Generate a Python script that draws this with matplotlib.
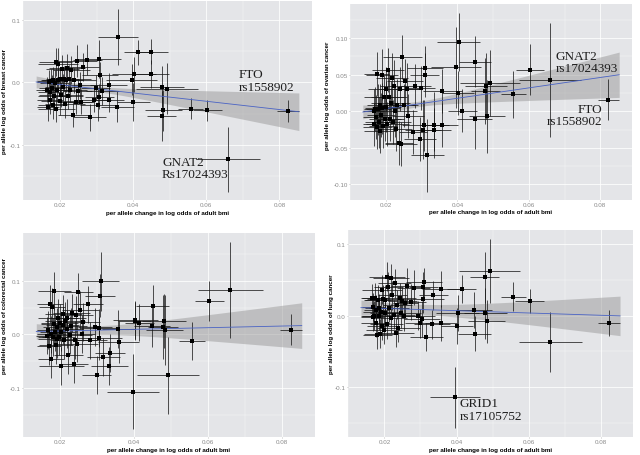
import numpy as np
import matplotlib
matplotlib.use("Agg")
import matplotlib.pyplot as plt

# ---- data (per SNP: BMI effect and its SE; shared across the four panels) ----
bmi_x = [0.0823, 0.0660, 0.0603, 0.0557, 0.0492, 0.0483, 0.0480, 0.0478, 0.0450, 0.0448,
         0.0414, 0.0403, 0.0396, 0.0401, 0.0358, 0.0357, 0.0335, 0.0333, 0.0316, 0.0310,
         0.0308, 0.0306, 0.0304, 0.0298, 0.0294, 0.0281, 0.0275, 0.0262, 0.0258, 0.0254,
         0.0249, 0.0246, 0.0243, 0.0239, 0.0236, 0.0231, 0.0228, 0.0226, 0.0222, 0.0219,
         0.0217, 0.0213, 0.0211, 0.0208, 0.0206, 0.0203, 0.0201, 0.0199, 0.0196, 0.0194,
         0.0192, 0.0190, 0.0188, 0.0186, 0.0184, 0.0182, 0.0180, 0.0178, 0.0176, 0.0174,
         0.0172, 0.0169, 0.0167, 0.0165]
bmi_xerr = [0.0030, 0.0087, 0.0040, 0.0035, 0.0084, 0.0050, 0.0060, 0.0040, 0.0045, 0.0050,
            0.0040, 0.0060, 0.0070, 0.0045, 0.0055, 0.0045, 0.0040, 0.0050, 0.0045, 0.0050,
            0.0040, 0.0060, 0.0050, 0.0040, 0.0045, 0.0045, 0.0040, 0.0045, 0.0035, 0.0050,
            0.0040, 0.0055, 0.0045, 0.0060, 0.0040, 0.0050, 0.0045, 0.0060, 0.0040, 0.0050,
            0.0045, 0.0055, 0.0040, 0.0050, 0.0045, 0.0060, 0.0040, 0.0050, 0.0045, 0.0055,
            0.0040, 0.0050, 0.0045, 0.0040, 0.0045, 0.0035, 0.0040, 0.0035, 0.0040, 0.0035,
            0.0036, 0.0032, 0.0031, 0.0030]

breast_y = [-0.046, -0.123, -0.045, -0.042, -0.010, -0.045, -0.007, -0.054, 0.049, 0.013,
            0.048, 0.013, 0.004, -0.031, 0.072, -0.039, -0.028, -0.005, -0.014, 0.011,
            -0.023, 0.037, -0.036, -0.009, -0.028, -0.056, 0.036, 0.024, -0.031, -0.005,
            -0.014, 0.034, -0.031, 0.003, -0.052, 0.020, -0.012, 0.005, -0.022, 0.023,
            0.004, -0.035, 0.006, -0.008, 0.021, -0.020, 0.005, -0.030, 0.003, 0.029,
            -0.012, -0.042, 0.032, -0.001, -0.022, 0.004, -0.036, -0.009, 0.002, -0.015,
            -0.028, 0.000, -0.039, -0.012]
breast_err = [0.017, 0.052, 0.017, 0.017, 0.040, 0.033, 0.033, 0.040, 0.020, 0.022,
              0.020, 0.028, 0.025, 0.030, 0.045, 0.025, 0.020, 0.020, 0.022, 0.022,
              0.020, 0.030, 0.025, 0.020, 0.020, 0.022, 0.025, 0.022, 0.020, 0.022,
              0.020, 0.025, 0.020, 0.020, 0.020, 0.022, 0.020, 0.022, 0.020, 0.022,
              0.020, 0.022, 0.020, 0.022, 0.022, 0.020, 0.020, 0.022, 0.020, 0.025,
              0.020, 0.022, 0.022, 0.020, 0.022, 0.020, 0.022, 0.020, 0.020, 0.022,
              0.022, 0.020, 0.022, 0.020]

ovarian_y = [0.016, 0.043, 0.057, 0.023, 0.039, -0.007, 0.035, 0.028, 0.068, -0.011,
             0.001, 0.095, 0.060, 0.025, 0.028, -0.019, -0.019, -0.025, -0.060, 0.059,
             0.050, -0.019, -0.025, 0.032, -0.038, 0.035, -0.028, -0.007, 0.031, 0.041,
             0.008, 0.074, -0.045, 0.030, -0.043, 0.009, -0.024, 0.000, 0.035, -0.015,
             0.045, 0.012, -0.010, 0.020, 0.056, -0.017, 0.006, 0.030, -0.010, 0.020,
             -0.020, 0.004, 0.050, -0.005, -0.027, 0.008, -0.015, 0.003, -0.022, 0.051,
             -0.008, 0.003, -0.018, 0.001]
ovarian_err = [0.028, 0.078, 0.035, 0.032, 0.045, 0.050, 0.045, 0.045, 0.035, 0.040,
               0.030, 0.040, 0.055, 0.030, 0.030, 0.030, 0.045, 0.030, 0.050, 0.030,
               0.030, 0.035, 0.040, 0.030, 0.030, 0.030, 0.030, 0.030, 0.035, 0.030,
               0.030, 0.030, 0.030, 0.030, 0.030, 0.035, 0.030, 0.035, 0.035, 0.030,
               0.035, 0.030, 0.030, 0.035, 0.030, 0.030, 0.035, 0.030, 0.030, 0.030,
               0.030, 0.035, 0.035, 0.030, 0.030, 0.030, 0.035, 0.035, 0.030, 0.030,
               0.030, 0.030, 0.030, 0.030]

colorectal_y = [0.009, 0.083, 0.063, -0.012, -0.076, 0.009, 0.025, 0.014, 0.053, 0.016,
                0.022, 0.027, -0.107, 0.025, -0.014, 0.010, -0.034, -0.059, -0.042, 0.099,
                0.072, -0.007, 0.012, -0.076, 0.014, -0.011, 0.056, 0.023, 0.001, 0.046,
                0.080, -0.017, 0.037, -0.010, -0.055, 0.040, 0.015, -0.001, -0.038, 0.031,
                0.010, 0.025, -0.010, 0.038, 0.017, -0.059, 0.005, 0.022, -0.004, 0.031,
                0.014, -0.008, -0.020, 0.004, 0.081, 0.020, -0.005, 0.052, 0.000, -0.046,
                0.057, -0.022, 0.008, -0.002]
colorectal_err = [0.029, 0.090, 0.037, 0.035, 0.072, 0.065, 0.050, 0.060, 0.040, 0.040,
                  0.035, 0.035, 0.070, 0.035, 0.040, 0.035, 0.035, 0.035, 0.035, 0.055,
                  0.040, 0.040, 0.035, 0.035, 0.035, 0.035, 0.035, 0.035, 0.035, 0.035,
                  0.035, 0.035, 0.035, 0.035, 0.035, 0.035, 0.035, 0.035, 0.035, 0.035,
                  0.035, 0.035, 0.035, 0.035, 0.035, 0.035, 0.035, 0.035, 0.035, 0.035,
                  0.035, 0.035, 0.035, 0.035, 0.035, 0.035, 0.035, 0.035, 0.035, 0.035,
                  0.035, 0.035, 0.035, 0.035]

lung_y = [-0.010, -0.037, 0.020, 0.026, 0.062, -0.008, 0.003, 0.053, -0.025, 0.008,
          0.037, 0.003, -0.114, -0.015, 0.037, -0.010, 0.028, -0.012, -0.030, 0.046,
          0.040, 0.023, -0.005, -0.011, 0.000, 0.039, 0.019, 0.041, 0.018, -0.001,
          0.020, 0.003, 0.025, -0.017, 0.015, -0.024, 0.045, 0.001, 0.028, 0.052,
          -0.004, 0.011, 0.040, 0.054, -0.012, 0.022, 0.003, -0.020, 0.023, 0.036,
          -0.014, 0.005, -0.025, 0.010, 0.000, 0.022, -0.027, 0.008, -0.010, 0.025,
          0.000, 0.012, -0.002, 0.024]
lung_err = [0.018, 0.042, 0.017, 0.020, 0.045, 0.030, 0.035, 0.035, 0.025, 0.025,
            0.020, 0.025, 0.043, 0.025, 0.025, 0.025, 0.020, 0.020, 0.020, 0.020,
            0.020, 0.020, 0.025, 0.020, 0.020, 0.025, 0.025, 0.025, 0.020, 0.020,
            0.020, 0.020, 0.020, 0.020, 0.020, 0.020, 0.020, 0.020, 0.020, 0.020,
            0.020, 0.020, 0.020, 0.020, 0.020, 0.020, 0.020, 0.020, 0.020, 0.020,
            0.020, 0.020, 0.020, 0.020, 0.020, 0.020, 0.020, 0.020, 0.020, 0.020,
            0.020, 0.020, 0.020, 0.020]

# fitted lm line: value at left / right end, CI half-width at left / right
fit_breast = (0.0005, -0.047, 0.0095, 0.030)
fit_ovarian = (-0.001, 0.050, 0.0095, 0.031)
fit_colorectal = (0.0055, 0.0165, 0.0145, 0.0425)
fit_lung = (0.011, -0.0005, 0.0105, 0.0275)

x_ticks = [0.02, 0.04, 0.06, 0.08]
x_tick_labels = ["0.02", "0.04", "0.06", "0.08"]
x_label = "per allele change in log odds of adult bmi"

panels = [
    dict(y=breast_y, err=breast_err, fit=fit_breast,
         ylabel="per allele log odds of breast cancer",
         yticks=[0.1, 0.0, -0.1], yticklabels=["0.1", "0.0", "-0.1"],
         ylim=(-0.1878, 0.1297), rect=(23, 2, 312, 201), ylab=(4.5, 0.5), xlab_y=213.5,
         notes=[("FTO\nrs1558902", 0.0688, 0.0225, "left"),
                ("GNAT2\nRs17024393", 0.0479, -0.117, "left")]),
    dict(y=ovarian_y, err=ovarian_err, fit=fit_ovarian,
         ylabel="per allele log odds of ovarian cancer",
         yticks=[0.10, 0.05, 0.0, -0.05, -0.10],
         yticklabels=["0.10", "0.05", "0.00", "-0.05", "-0.10"],
         ylim=(-0.1214, 0.1468), rect=(350, 5, 632, 201), ylab=(327.5, 0.535), xlab_y=213,
         notes=[("GNAT2\nrs17024393", 0.0675, 0.084, "left"),
                ("FTO\nrs1558902", 0.0806, 0.012, "right")]),
    dict(y=colorectal_y, err=colorectal_err, fit=fit_colorectal,
         ylabel="per allele log odds of colorectal cancer",
         yticks=[0.1, 0.0, -0.1], yticklabels=["0.1", "0.0", "-0.1"],
         ylim=(-0.191, 0.189), rect=(23, 234, 315, 438), ylab=(5, 0.6), xlab_y=450.5,
         notes=[]),
    dict(y=lung_y, err=lung_err, fit=fit_lung,
         ylabel="per allele log odds of lung cancer",
         yticks=[0.1, 0.0, -0.1], yticklabels=["0.1", "0.0", "-0.1"],
         ylim=(-0.169, 0.119), rect=(348, 231, 633, 438), ylab=(331, 0.55), xlab_y=450.5,
         notes=[("GRID1\nrs17105752", 0.0409, -0.1135, "left")]),
]

W, H = 640, 456
fig = plt.figure(figsize=(W / 100, H / 100), dpi=100)
fig.patch.set_facecolor("white")

x = np.array(bmi_x)
xe = np.array(bmi_xerr)
x_lo = float(np.min(x - xe))
x_hi = float(np.max(x + xe))
x_pad = 0.05 * (x_hi - x_lo)
x_c = float(np.mean(x))

for p in panels:
    l, t, r, b = p["rect"]
    ax = fig.add_axes([l / W, 1 - b / H, (r - l) / W, (b - t) / H])
    ax.set_facecolor("#E4E5E8")
    for s in ax.spines.values():
        s.set_visible(False)
    ax.set_xlim(x_lo - x_pad, x_hi + x_pad)

    # grid (ggplot style)
    ax.set_xticks(x_ticks)
    ax.set_xticks([0.01, 0.03, 0.05, 0.07], minor=True)
    ax.set_yticks(p["yticks"])
    yt = p["yticks"]
    step = abs(yt[0] - yt[1])
    ax.set_yticks(np.arange(-0.2, 0.2001, step) + step / 2, minor=True)
    ax.set_ylim(*p["ylim"])
    ax.grid(which="major", color="white", lw=0.7, alpha=0.8)
    ax.grid(which="minor", color="white", lw=0.35, alpha=0.7)
    ax.set_axisbelow(True)
    ax.set_xticklabels(x_tick_labels, family="Liberation Sans")
    ax.set_yticklabels(p["yticklabels"], family="Liberation Sans")
    ax.tick_params(which="major", length=1.0, width=0.4, color="#999999",
                   labelsize=4.5, labelcolor="#8a8a8a", pad=0.6)
    ax.tick_params(which="minor", length=0)
    ax.set_xlabel(x_label, fontsize=4.5, fontweight="bold",
                  family="Liberation Sans", va="center")
    ax.xaxis.set_label_coords(0.5, (b - p["xlab_y"]) / (b - t))
    ax.set_ylabel(p["ylabel"], fontsize=4.5, fontweight="bold",
                  family="Liberation Sans", va="center")
    lx, ly = p["ylab"]
    ax.yaxis.set_label_coords((lx - l) / (r - l), ly)

    # regression line and confidence band
    yl, yr, hl, hr = p["fit"]
    xs = np.linspace(x_lo, x_hi, 100)
    slope = (yr - yl) / (x_hi - x_lo)
    ys = yl + slope * (xs - x_lo)
    dl2, dr2 = (x_lo - x_c) ** 2, (x_hi - x_c) ** 2
    bq = (hr ** 2 - hl ** 2) / (dr2 - dl2)
    aq = hl ** 2 - bq * dl2
    hw = np.sqrt(np.maximum(aq + bq * (xs - x_c) ** 2, 0))
    ax.fill_between(xs, ys - hw, ys + hw, color="#999999", alpha=0.5, lw=0, zorder=2)

    # error bars and points
    ax.errorbar(x, p["y"], xerr=xe, yerr=p["err"], fmt="none",
                ecolor="#151515", elinewidth=0.65, alpha=0.8, zorder=3)
    ax.plot(xs, ys, color="#4a63c4", lw=0.6, zorder=4)
    ax.scatter(x, p["y"], s=6, marker="s", color="black", lw=0, zorder=5)

    for txt, tx, ty, ha in p["notes"]:
        ax.text(tx, ty, txt, ha=ha, va="top", multialignment=ha,
                fontsize=9.5, family="Liberation Serif", color="#1e1e1e",
                linespacing=1.05, zorder=6)

fig.savefig("out.png", dpi=100, facecolor="white")
